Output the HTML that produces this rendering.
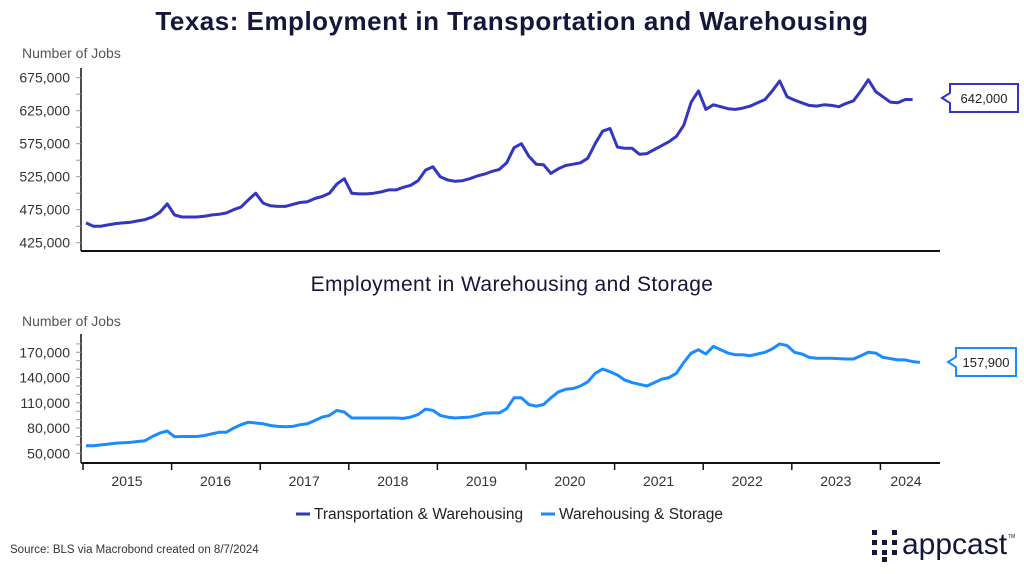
<!DOCTYPE html>
<html><head><meta charset="utf-8">
<style>
body{margin:0;background:#fff;width:1024px;height:569px;overflow:hidden;font-family:"Liberation Sans",sans-serif;}
svg text{font-family:"Liberation Sans",sans-serif;}
</style></head>
<body>
<svg id="chart" width="1024" height="569" viewBox="0 0 1024 569" xmlns="http://www.w3.org/2000/svg">
<text x="512" y="30" text-anchor="middle" font-size="26" font-weight="bold" letter-spacing="0.5" fill="#15163a">Texas: Employment in Transportation and Warehousing</text>
<text x="22" y="58" font-size="14" fill="#555">Number of Jobs</text>
<text x="512" y="291" text-anchor="middle" font-size="21" letter-spacing="0.4" fill="#15163a">Employment in Warehousing and Storage</text>
<text x="22" y="326" font-size="14" fill="#555">Number of Jobs</text>
<g id="top"></g>
<g id="bot"></g>
<g>
 <g>
  <line x1="296" y1="514" x2="310" y2="514" stroke="#3236c0" stroke-width="3"/>
  <text x="314" y="519" font-size="15.5" fill="#222">Transportation &amp; Warehousing</text>
 </g>
 <g>
  <line x1="541" y1="514" x2="555" y2="514" stroke="#1a8cff" stroke-width="3"/>
  <text x="559" y="519" font-size="15.5" fill="#222">Warehousing &amp; Storage</text>
 </g>
</g>
<text x="10" y="553" font-size="11.5" fill="#333">Source: BLS via Macrobond created on 8/7/2024</text>
<g fill="#15163a">
 <rect x="872" y="530" width="5" height="5"/><rect x="872" y="540" width="5" height="5"/><rect x="872" y="550" width="5" height="5"/>
 <rect x="882" y="540" width="5" height="5"/><rect x="882" y="550" width="5" height="5"/><rect x="882" y="557" width="5" height="5"/>
 <rect x="892" y="530" width="5" height="5"/><rect x="892" y="540" width="5" height="5"/><rect x="892" y="550" width="5" height="5"/>
 <text x="902" y="554" font-size="30" fill="#15163a">appcast</text>
 <text x="1008" y="538" font-size="5" fill="#15163a">TM</text>
</g>
</svg>
<script>
const years = ["2015","2016","2017","2018","2019","2020","2021","2022","2023","2024"];
const topTicks = [425000,475000,525000,575000,625000,675000];
const botTicks = [50000,80000,110000,140000,170000];
const transport = [455,450,450,452,454,455,456,458,460,464,471,484,
467,464,464,464,465,467,468,470,475,479,490,500,
485,481,480,480,483,486,487,492,495,500,514,522,
500,499,499,500,502,505,505,509,512,519,535,540,
525,520,518,519,522,526,529,533,536,546,569,575,
556,544,543,530,537,542,544,546,553,575,594,598,
570,568,568,559,560,566,572,578,586,603,638,655,
627,634,631,628,627,629,632,637,642,655,670,646,
641,637,633,632,634,633,631,636,640,655,672,654,
646,638,637,642,642];
const warehouse = [59,59,60,61,62,62.5,63,64,65,70,74,76.5,
69.6,70,70,70,71,73,75,75,80,84,87,86,
85,83,82,81.5,82,84,85,89,93,95,101,99,
92,92,92,92,92,92,92,91.5,93,96,102.5,101,
95,93,92,92.5,93,95,97.5,98,98,103,116,116,
108,106,108,116,123,126,127,130,135,145,150,147,
143,137,134,132,130,134,138,140,145,158,169,173,
168,177,173,169,167,167,166,168,170,174,180,178,
170,168,164,163,163,163,162.5,162,162,166,170,169,
164,162.5,161,161,159,158];
const topLabel = "642,000";
const botLabel = "157,900";

const NS="http://www.w3.org/2000/svg";
function mk(parent,tag,attrs){const e=document.createElementNS(NS,tag);for(const k in attrs)e.setAttribute(k,attrs[k]);parent.appendChild(e);return e;}
const X0=81,X1=940;
function xm(i){return 86+i*7.38;}
function fmt(v){return v.toLocaleString('en-US');}

function drawChart(g,cfg){
  const y=v=>cfg.yTop+(cfg.vTop-v)*cfg.k;
  const ax=mk(g,'line',{x1:X0,y1:cfg.axTop,x2:X0,y2:cfg.base,stroke:'#111','stroke-width':1.5});
  
  
  const bx=mk(g,'line',{x1:X0,y1:cfg.base,x2:X1,y2:cfg.base,stroke:'#111','stroke-width':2});
  
  
  for(let v=cfg.minorStart;v<=cfg.minorEnd;v+=cfg.minorStep){
    const t=mk(g,'line',{x1:X0-5,y1:y(v),x2:X0,y2:y(v),stroke:'#999','stroke-width':1});
    
    
  }
  cfg.ticks.forEach(v=>{
    const t=mk(g,'text',{x:X0-11,y:y(v)+5,'text-anchor':'end','font-size':cfg.fs,fill:'#333'});
    t.textContent=fmt(v);
    
    
  });
  const d=cfg.data.map((v,i)=>(i?'L':'M')+xm(i).toFixed(1)+','+y(v*1000).toFixed(1)).join('');
  const p=mk(g,'path',{d:d,fill:'none',stroke:cfg.color,'stroke-width':3,'stroke-linejoin':'round'});
  
  
  const bxx=cfg.boxX, bh=28, cy=cfg.boxY;
  const callout=mk(g,'path',{d:`M${bxx-8},${cy} L${bxx},${cy-5} L${bxx},${cy-bh/2} L${bxx+cfg.boxW},${cy-bh/2} L${bxx+cfg.boxW},${cy+bh/2} L${bxx},${cy+bh/2} L${bxx},${cy+5} Z`,fill:'#fff',stroke:cfg.color,'stroke-width':2});
  
  
  const ct=mk(g,'text',{x:bxx+cfg.boxW/2,y:cy+5,'text-anchor':'middle','font-size':13,fill:'#222'});
  ct.textContent=cfg.label;
  
  
}
drawChart(document.getElementById('top'),{yTop:77.7,vTop:675000,k:1/1515,axTop:68,base:251,
  minorStart:425000,minorEnd:675000,minorStep:25000,ticks:topTicks,fs:14,data:transport,color:'#3236c0',
  name:'transportation-line',boxX:950,boxW:68,boxY:98,label:topLabel});
drawChart(document.getElementById('bot'),{yTop:352.3,vTop:170000,k:1/1188,axTop:334,base:463,
  minorStart:50000,minorEnd:180000,minorStep:10000,ticks:botTicks,fs:14,data:warehouse,color:'#1a8cff',
  name:'warehousing-line',boxX:956,boxW:60,boxY:362,label:botLabel});
const gb=document.getElementById('bot');
years.forEach((yr,j)=>{
  const xs=83+j*88.6;
  const t=mk(gb,'line',{x1:xs,y1:463,x2:xs,y2:470,stroke:'#111','stroke-width':1.5});
  
  
  const cx = j<9 ? xs+44 : 906;
  const l=mk(gb,'text',{x:cx,y:486,'text-anchor':'middle','font-size':14,fill:'#333'});
  l.textContent=yr;
  
  
});
</script>
</body></html>
